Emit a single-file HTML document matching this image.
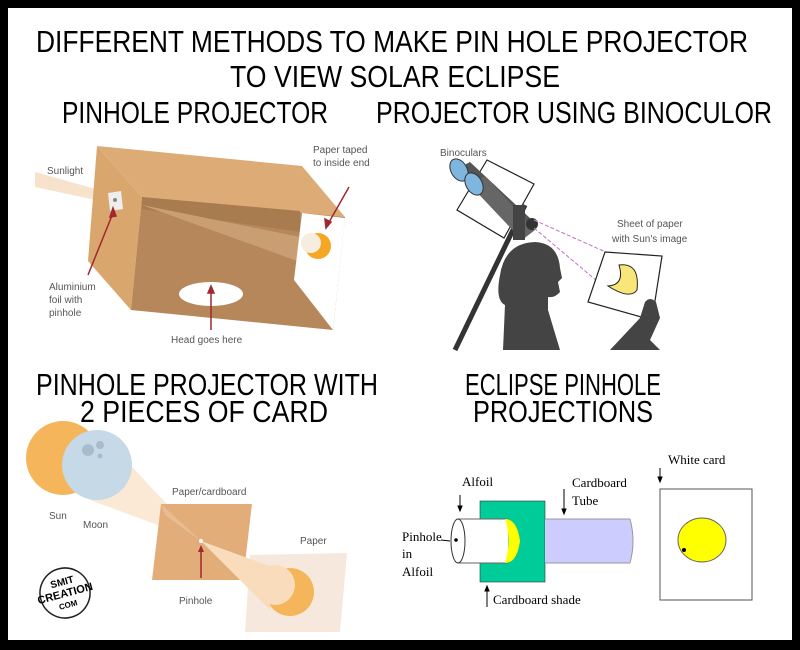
<!DOCTYPE html>
<html><head><meta charset="utf-8"><style>html,body{margin:0;padding:0;background:#000}svg{display:block}</style></head>
<body>
<svg width="800" height="650" viewBox="0 0 800 650" xmlns="http://www.w3.org/2000/svg" font-family="Liberation Sans, sans-serif">
<rect x="0" y="0" width="800" height="650" fill="#000"/>
<rect x="8" y="8" width="784" height="632" fill="#fff"/>
<g fill="#000" font-size="31" lengthAdjust="spacingAndGlyphs">
<text x="36" y="52" textLength="712" lengthAdjust="spacingAndGlyphs">DIFFERENT METHODS TO MAKE PIN HOLE PROJECTOR</text>
<text x="230" y="87" textLength="330" lengthAdjust="spacingAndGlyphs">TO VIEW SOLAR ECLIPSE</text>
<text x="62" y="123" textLength="266" lengthAdjust="spacingAndGlyphs">PINHOLE PROJECTOR</text>
<text x="376" y="123" textLength="396" lengthAdjust="spacingAndGlyphs">PROJECTOR USING BINOCULOR</text>
<text x="36" y="395" textLength="342" lengthAdjust="spacingAndGlyphs">PINHOLE PROJECTOR WITH</text>
<text x="80" y="422" textLength="248" lengthAdjust="spacingAndGlyphs">2 PIECES OF CARD</text>
<text x="465" y="395" textLength="196" lengthAdjust="spacingAndGlyphs">ECLIPSE PINHOLE</text>
<text x="473" y="422" textLength="180" lengthAdjust="spacingAndGlyphs">PROJECTIONS</text>
</g>
<!-- Pinhole box -->
<polygon points="35,172 35,187 110,203 110,193" fill="#f7e3cc"/>
<polygon points="97,146 142,197 131,310 88,261" fill="#d9a66e"/>
<polygon points="97,146 302,166 345,217 142,197" fill="#ddab76"/>
<polygon points="142,197 345,217 333,330 131,310" fill="#b5875a"/>
<polygon points="142,197 300,211 300,232 142,209" fill="#a97c50"/>
<polygon points="142,205 300,237 300,262" fill="#c99e72"/>
<polygon points="302,213 345,218 333,330 294,280" fill="#fff"/>
<circle cx="318" cy="246" r="13" fill="#f5a623"/>
<circle cx="311" cy="243" r="10" fill="#f6ece0"/>
<polygon points="108,193 121,191 123,209 110,211" fill="#eee"/>
<circle cx="115" cy="200" r="2" fill="#888"/>
<ellipse cx="211" cy="294" rx="32" ry="12" fill="#fff"/>
<g stroke="#a0282e" stroke-width="1.5" fill="#a0282e">
<line x1="88" y1="275" x2="113" y2="213"/><polygon points="113,208 110,217 116,216"/>
<line x1="349" y1="187" x2="328" y2="224"/><polygon points="326,228 325,219 331,222"/>
<line x1="211" y1="330" x2="211" y2="290"/><polygon points="211,286 208,293 214,293"/>
</g>
<g fill="#555" font-size="10">
<text x="47" y="174">Sunlight</text>
<text x="313" y="153">Paper taped</text><text x="313" y="166">to inside end</text>
<text x="49" y="290">Aluminium</text><text x="49" y="303">foil with</text><text x="49" y="316">pinhole</text>
<text x="171" y="343">Head goes here</text>
<text x="440" y="156">Binoculars</text>
<text x="617" y="227">Sheet of paper</text><text x="612" y="242">with Sun's image</text>
<text x="49" y="519">Sun</text><text x="83" y="528">Moon</text>
<text x="172" y="495">Paper/cardboard</text>
<text x="300" y="544">Paper</text>
<text x="179" y="604">Pinhole</text>
</g>
<!-- Binoculars -->
<polygon points="487,160 534,184 504,238 457,210" fill="none" stroke="#222" stroke-width="1.2"/>
<line x1="525" y1="205" x2="455" y2="350" stroke="#333" stroke-width="5"/>
<polygon points="455,170 470,162 532,220 520,230" fill="#555"/>
<polygon points="470,185 485,176 535,230 522,240" fill="#666"/>
<ellipse cx="459" cy="170" rx="8" ry="12" fill="#7fb6df" stroke="#333" transform="rotate(-30 459 170)"/>
<ellipse cx="474" cy="184" rx="8" ry="12" fill="#7fb6df" stroke="#333" transform="rotate(-30 474 184)"/>
<circle cx="532" cy="224" r="6" fill="#333"/>
<rect x="513" y="205" width="12" height="35" fill="#444"/>
<path d="M503,350 L505,305 Q495,300 500,275 Q505,243 535,242 Q558,243 560,268 L562,278 L558,282 L560,292 Q555,298 548,297 L548,310 L560,350 Z" fill="#444"/>
<line x1="534" y1="220" x2="628" y2="262" stroke="#c36fc3" stroke-dasharray="4,2"/>
<line x1="534" y1="228" x2="610" y2="292" stroke="#c36fc3" stroke-dasharray="4,2"/>
<polygon points="605,252 662,256 652,320 588,302" fill="#fff" stroke="#222" stroke-width="1.2"/>
<path d="M619,265 Q640,262 637,290 Q630,300 608,286 Q625,285 619,265 Z" fill="#f8e67a" stroke="#222"/>
<path d="M610,350 L640,318 L645,302 Q650,296 656,302 L660,318 L650,340 L660,350 Z" fill="#444"/>
<!-- Card projection -->
<polygon points="98,430 201,541 90,500" fill="#fbe9d6"/>
<circle cx="63" cy="458" r="37" fill="#f5b55a"/>
<circle cx="97" cy="465" r="35" fill="#c5d9e6"/>
<circle cx="88" cy="450" r="6" fill="#a9bccb"/><circle cx="100" cy="445" r="4" fill="#a9bccb"/><circle cx="100" cy="456" r="2.5" fill="#a9bccb"/>
<polygon points="161,504 252,504 243,580 152,580" fill="#e2ad78"/>
<polygon points="161,504 201,541 165,515" fill="#e8bd93"/>
<polygon points="250,555 347,553 340,632 245,632" fill="#f6e8dc"/>
<polygon points="201,541 275,568 270,610" fill="#f8dcbc"/>
<circle cx="290" cy="592" r="24" fill="#f5b55a"/>
<circle cx="275" cy="585" r="20" fill="#f8dcbc"/>
<circle cx="201" cy="541" r="2" fill="#fff"/>
<line x1="201" y1="578" x2="201" y2="549" stroke="#a0282e" stroke-width="1.5"/><polygon points="201,545 198,552 204,552" fill="#a0282e"/>
<g transform="rotate(-15 65 593)">
<circle cx="65" cy="593" r="25" fill="none" stroke="#222" stroke-width="1.5"/>
<text x="65" y="585" font-size="10" font-weight="bold" text-anchor="middle">SMIT</text>
<text x="65" y="597" font-size="11" font-weight="bold" text-anchor="middle">CREATION</text>
<text x="65" y="608" font-size="8" font-weight="bold" text-anchor="middle">COM</text>
</g>
<!-- Tube diagram -->
<rect x="480" y="501" width="65" height="81" fill="#00cc99" stroke="#333" stroke-width="0.6"/>
<rect x="545" y="519" width="85" height="44" fill="#ccccff"/>
<path d="M630,519 Q636,541 630,563" fill="#ccccff" stroke="#999"/>
<line x1="545" y1="519" x2="630" y2="519" stroke="#999"/><line x1="545" y1="563" x2="630" y2="563" stroke="#999"/>
<rect x="458" y="519" width="50" height="44" fill="#fff"/>
<line x1="458" y1="519" x2="508" y2="519" stroke="#666"/><line x1="458" y1="563" x2="508" y2="563" stroke="#666"/>
<path d="M505,519 Q517,519 520,541 Q517,563 505,563 Q512,541 505,519 Z" fill="#ffff00"/>
<ellipse cx="458" cy="541" rx="7" ry="22" fill="#fff" stroke="#333"/>
<circle cx="456" cy="540" r="1.8" fill="#000"/>
<rect x="660" y="489" width="92" height="111" fill="#fff" stroke="#555"/>
<ellipse cx="702" cy="540" rx="24" ry="22" fill="#ffff00" stroke="#666"/>
<circle cx="684" cy="550" r="2" fill="#000"/>
<g stroke="#000" fill="#000">
<line x1="460" y1="495" x2="460" y2="509"/><polygon points="460,511 458,506 462,506"/>
<line x1="564" y1="489" x2="564" y2="512"/><polygon points="564,514 562,509 566,509"/>
<line x1="660" y1="468" x2="660" y2="480"/><polygon points="660,482 658,477 662,477"/>
<line x1="487" y1="607" x2="487" y2="588"/><polygon points="487,586 485,591 489,591"/>
<line x1="441" y1="540" x2="450" y2="541"/>
</g>
<g font-family="Liberation Serif, serif" font-size="13" fill="#000">
<text x="462" y="486">Alfoil</text>
<text x="572" y="487">Cardboard</text><text x="572" y="505">Tube</text>
<text x="668" y="464">White card</text>
<text x="402" y="541">Pinhole</text><text x="402" y="558">in</text><text x="402" y="576">Alfoil</text>
<text x="493" y="604">Cardboard shade</text>
</g>
</svg>
</body></html>
